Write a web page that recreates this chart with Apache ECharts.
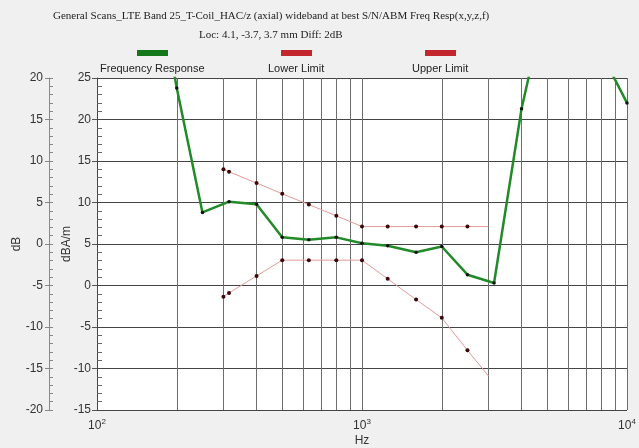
<!DOCTYPE html>
<html><head><meta charset="utf-8">
<script src="https://cdn.jsdelivr.net/npm/echarts@6/dist/echarts.min.js"></script>
<style>html,body{margin:0;padding:0;background:#f0f0f0}#c{width:639px;height:448px}</style>
</head><body><div id="c"></div>
<script>
// ---- data ----
const respFreq   = [100, 125, 160, 200, 250, 315, 400, 500, 630, 800, 1000, 1250, 1600, 2000, 2500, 3150, 4000, 5000, 6300, 8000, 10000];
const respValues = [48, 46, 41, 23.8, 8.8, 10.1, 9.8, 5.8, 5.5, 5.8, 5.1, 4.8, 4.0, 4.7, 1.3, 0.3, 21.3, 35, 33, 28, 22.0];
const limitFreq   = [300, 315, 400, 500, 630, 800, 1000, 1250, 1600, 2000, 2500, 3000];
const upperValues = [14.0, 13.7, 12.35, 11.05, 9.75, 8.4, 7.1, 7.1, 7.1, 7.1, 7.1, 7.1];
const lowerValues = [-1.35, -0.9, 1.15, 3.05, 3.05, 3.05, 3.05, 0.8, -1.7, -3.9, -7.8, -10.9];
const gridFreqs = [200, 300, 400, 500, 600, 700, 800, 900, 2000, 3000, 4000, 5000, 6000, 7000, 8000, 9000];
const seriesNames = ['Frequency Response', 'Lower Limit', 'Upper Limit'];
const titleLines = ['General Scans_LTE Band 25_T-Coil_HAC/z (axial) wideband at best S/N/ABM Freq Resp(x,y,z,f)', 'Loc: 4.1, -3.7, 3.7 mm Diff: 2dB'];

const pairs = (xs, ys) => xs.map((x, i) => [x, ys[i]]);
const SANS = '"Liberation Sans", Arial, sans-serif';
const SERIF = '"Liberation Serif", "Times New Roman", serif';
const labelStyle = {color: '#333', fontFamily: SANS, fontSize: 12};

const chart = echarts.init(document.getElementById('c'), null, {renderer: 'canvas'});
const lastLimit = limitFreq.length - 1;

function legendFor(name, left, padLeft, color) {
  return {
    data: [{name: name, itemStyle: {color: color, borderWidth: 0}}],
    left: left, top: 22, padding: 0, icon: 'rect', itemWidth: 31, itemHeight: 6,
    selectedMode: false,
    formatter: n => '\n' + n,
    textStyle: {color: '#222', fontFamily: SANS, fontSize: 11, lineHeight: 31, padding: [0, 0, 0, padLeft]}
  };
}

chart.setOption({
  animation: false,
  backgroundColor: '#f0f0f0',
  title: [
    {text: titleLines[0], left: 53, top: 11, padding: 0, textStyle: {fontFamily: SERIF, fontSize: 11, fontWeight: 'normal', color: '#222'}},
    {text: titleLines[1], left: 199, top: 30, padding: 0, textStyle: {fontFamily: SERIF, fontSize: 11, fontWeight: 'normal', color: '#222'}}
  ],
  legend: [
    legendFor(seriesNames[0], 100, -73, '#13781a'),
    legendFor(seriesNames[1], 268, -49, '#c3262c'),
    legendFor(seriesNames[2], 412, -49, '#c3262c')
  ],
  grid: {left: 97, right: 12, top: 78, bottom: 38, show: true, backgroundColor: '#ffffff', borderWidth: 0,
         containLabel: false, outerBoundsMode: 'none'},
  xAxis: {
    type: 'log', logBase: 10, min: 100, max: 10000,
    name: 'Hz', nameLocation: 'middle', nameGap: 25, nameMoveOverlap: false,
    nameTextStyle: labelStyle,
    axisLine: {show: true, lineStyle: {color: '#444', width: 1}},
    axisTick: {show: false},
    splitLine: {show: true, lineStyle: {color: '#6e6e6e', width: 1}},
    axisLabel: {
      showMinLabel: true, showMaxLabel: true, margin: 8,
      color: '#333', fontFamily: SANS, fontSize: 12,
      formatter: v => '10{s|' + Math.round(Math.log10(v)) + '}',
      rich: {s: {fontSize: 8, fontFamily: SANS, color: '#333', verticalAlign: 'bottom', padding: [0, 0, 7, 0]}}
    }
  },
  yAxis: [
    { // inner dBA/m
      type: 'value', position: 'left', min: -15, max: 25, interval: 5,
      name: 'dBA/m', nameLocation: 'middle', nameGap: 24, nameRotate: 90, nameMoveOverlap: false,
      nameTextStyle: labelStyle,
      axisLine: {show: true, lineStyle: {color: '#444'}},
      axisTick: {show: true, inside: false, length: 5, lineStyle: {color: '#555'}},
      axisLabel: Object.assign({margin: 6}, labelStyle),
      splitLine: {show: true, lineStyle: {color: '#454545', width: 1}}
    },
    { // inner minor ticks (inside)
      type: 'value', position: 'left', min: -15, max: 25, interval: 5,
      axisLine: {show: false}, axisLabel: {show: false}, splitLine: {show: false},
      axisTick: {show: false, inside: true},
      minorTick: {show: true, splitNumber: 5, length: 5, lineStyle: {color: '#666'}}
    },
    { // outer dB
      type: 'value', position: 'left', offset: 48, min: -20, max: 20, interval: 5,
      name: 'dB', nameLocation: 'middle', nameGap: 26, nameRotate: 90, nameMoveOverlap: false,
      nameTextStyle: labelStyle,
      axisLine: {show: true, lineStyle: {color: '#888'}},
      axisTick: {show: true, inside: false, length: 4, lineStyle: {color: '#888'}},
      axisLabel: Object.assign({margin: 6}, labelStyle),
      splitLine: {show: false}
    },
    { // outer minor ticks
      type: 'value', position: 'left', offset: 48, min: -20, max: 20, interval: 5,
      axisLine: {show: false}, axisLabel: {show: false}, splitLine: {show: false},
      axisTick: {show: true, inside: true, length: 4, lineStyle: {color: '#888'}},
      minorTick: {show: true, splitNumber: 5, length: 4, lineStyle: {color: '#888'}}
    }
  ],
  series: [
    {
      name: 'grid', type: 'line', data: [], silent: true, z: 1,
      markLine: {
        silent: true, z: 1, animation: false, symbol: ['none', 'none'],
        label: {show: false}, emphasis: {disabled: true},
        lineStyle: {color: '#6e6e6e', width: 1, type: 'solid'},
        data: gridFreqs.map(f => ({xAxis: f}))
      }
    },
    {
      name: seriesNames[1], type: 'line', yAxisIndex: 0, z: 3,
      data: pairs(limitFreq, lowerValues),
      lineStyle: {color: '#e59a9a', width: 1},
      symbol: 'circle', symbolSize: (v, p) => p.dataIndex === lastLimit ? 0 : 4,
      itemStyle: {color: '#3a0808'}
    },
    {
      name: seriesNames[2], type: 'line', yAxisIndex: 0, z: 3,
      data: pairs(limitFreq, upperValues),
      lineStyle: {color: '#e59a9a', width: 1},
      symbol: 'circle', symbolSize: (v, p) => p.dataIndex === lastLimit ? 0 : 4,
      itemStyle: {color: '#3a0808'}
    },
    {
      name: seriesNames[0], type: 'line', yAxisIndex: 0, z: 4, clip: true,
      data: pairs(respFreq, respValues),
      lineStyle: {color: '#228a28', width: 2.5},
      symbol: 'circle', symbolSize: 3.5,
      itemStyle: {color: '#111'}
    }
  ]
});
</script>
</body></html>
